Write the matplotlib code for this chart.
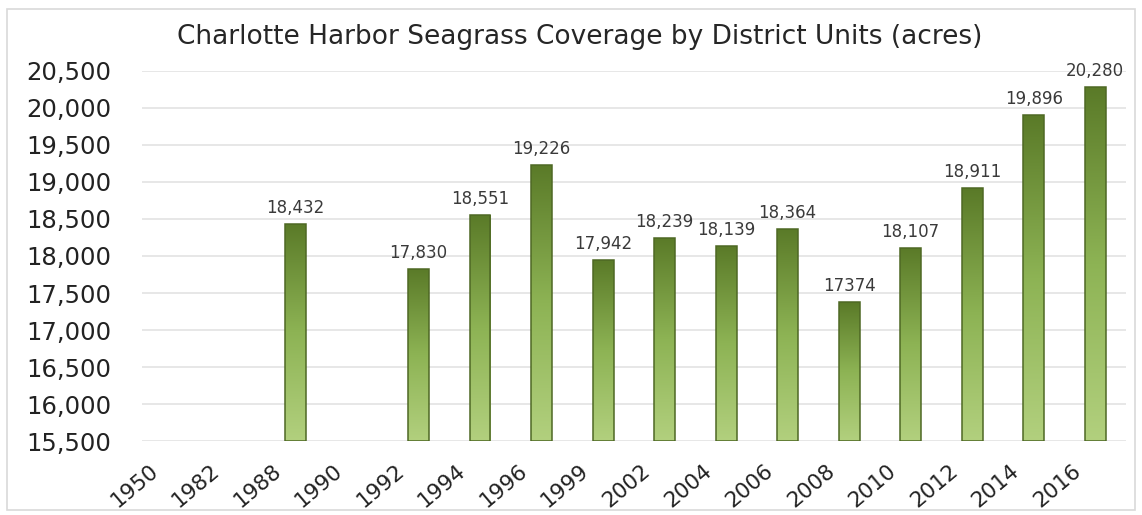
import matplotlib.pyplot as plt
import numpy as np
from matplotlib.colors import LinearSegmentedColormap
from matplotlib.patches import Rectangle
from matplotlib.transforms import ScaledTranslation

years = ['1950', '1982', '1988', '1990', '1992', '1994', '1996', '1999', '2002',
         '2004', '2006', '2008', '2010', '2012', '2014', '2016']
acres = [None, None, 18432, None, 17830, 18551, 19226, 17942, 18239,
         18139, 18364, 17374, 18107, 18911, 19896, 20280]
labels = ['', '', '18,432', '', '17,830', '18,551', '19,226', '17,942', '18,239',
          '18,139', '18,364', '17374', '18,107', '18,911', '19,896', '20,280']
yticks = [15500, 16000, 16500, 17000, 17500, 18000, 18500, 19000, 19500, 20000, 20500]

fig = plt.figure(figsize=(11.42, 5.15), dpi=100)
ax = fig.add_axes([0.124, 0.143, 0.862, 0.72])

# figure frame
fig.patches.append(Rectangle((0.006, 0.01), 0.988, 0.972, transform=fig.transFigure,
                             fill=False, edgecolor='#d9d9d9', linewidth=1.2))

ymin, ymax = 15500, 20500
cmap = LinearSegmentedColormap.from_list('grn', ['#b2d07e', '#8db354', '#5a7a28'])
grad = np.linspace(0, 1, 256).reshape(-1, 1)
width = 0.34

x = np.arange(len(years))
for i, v in enumerate(acres):
    if v is None:
        continue
    rect = Rectangle((x[i] - width / 2, ymin), width, v - ymin,
                     facecolor='none', edgecolor='#4e6824', linewidth=1.1, zorder=3)
    ax.add_patch(rect)
    im = ax.imshow(grad, cmap=cmap, aspect='auto', origin='lower',
                   extent=(x[i] - width / 2, x[i] + width / 2, ymin, v), zorder=2)
    im.set_clip_path(rect)
    ax.text(x[i], v + 95, labels[i], ha='center', va='bottom', fontsize=12,
            color='#3a3a3a')

ax.set_xlim(-0.5, len(years) - 0.5)
ax.set_ylim(ymin, ymax)
ax.set_yticks(yticks)
ax.set_yticklabels(['{:,}'.format(t) for t in yticks], fontsize=17.5, color='#222222')
ax.set_xticks(x)
ax.set_xticklabels([])

# year labels, shifted left of the bar centre like the original
off = ScaledTranslation(-0.17, -0.265, fig.dpi_scale_trans)
for i, yr in enumerate(years):
    ax.text(x[i], 0, yr, transform=ax.get_xaxis_transform() + off,
            rotation=40, ha='right', va='center', rotation_mode='anchor',
            fontsize=15.5, color='#222222')

ax.tick_params(length=0, pad=22)
for s in ax.spines.values():
    s.set_visible(False)
ax.set_axisbelow(True)
ax.yaxis.grid(True, color='#e3e3e3', linewidth=1.2)

fig.text(0.508, 0.928, 'Charlotte Harbor Seagrass Coverage by District Units (acres)',
         ha='center', va='center', fontsize=19, color='#262626')

fig.savefig('out.png', dpi=100)
